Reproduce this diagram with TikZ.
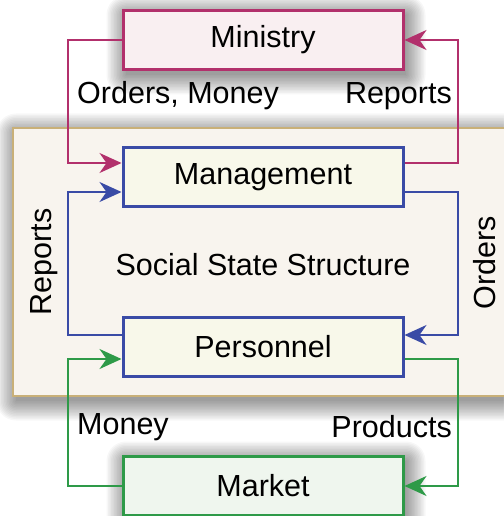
\documentclass[tikz,border=0pt]{standalone}
\usepackage{fontspec}
\setmainfont{Liberation Sans}
\usetikzlibrary{arrows.meta}
\definecolor{magc}{HTML}{B2306C}
\definecolor{bluec}{HTML}{3A4BA6}
\definecolor{greenc}{HTML}{2E9A48}
\definecolor{tanc}{HTML}{C9B078}
\definecolor{bigfill}{HTML}{F8F4EE}
\definecolor{minfill}{HTML}{F9EFF1}
\definecolor{orgfill}{HTML}{F8F8EA}
\definecolor{mktfill}{HTML}{EFF6EE}
\newcommand{\myshadow}[4]{%
  \foreach \r in {0,1.5,...,19.5}{%
    \fill[black, opacity=0.03, rounded corners=\r pt] (#1-\r+3,#2-\r+5) rectangle (#3+\r+3,#4+\r+5);}}
\tikzset{
  txt/.style={font=\fontsize{30.5}{36}\selectfont, inner sep=0pt},
  boxnode/.style={txt, draw, line width=3pt, minimum width=280pt, minimum height=59pt},
  conn/.style={line width=2pt, -{Stealth[length=22pt,width=20pt,inset=7pt]}}
}
\begin{document}
\begin{tikzpicture}[x=1pt,y=-1pt]
\useasboundingbox (0,0) rectangle (503,516);
\fill[white] (0,0) rectangle (503,516);
\myshadow{13}{128}{525}{396}
\draw[draw=tanc, fill=bigfill, line width=1.5pt] (13,128) rectangle (525,396);
\node[txt] (sss) at (263,265) {Social State Structure};
\myshadow{123}{10}{403}{70}
\myshadow{123}{456}{403}{516}
\node[boxnode, draw=magc, fill=minfill] (ministry) at (263,40) {Ministry};
\node[boxnode, draw=bluec, fill=orgfill] (management) at (263,177) {Management};
\node[boxnode, draw=bluec, fill=orgfill] (personnel) at (263,347) {Personnel};
\node[boxnode, draw=greenc, fill=mktfill] (market) at (263,486) {Market};
% magenta
\draw[conn, magc] (ministry.west) -| (68,163) -- ([yshift=14pt]management.west);
\draw[conn, magc] ([yshift=14pt]management.east) -| (458,40) -- (ministry.east);
% blue
\draw[conn, bluec] ([yshift=12pt]personnel.west) -| (68,192) -- ([yshift=-15pt]management.west);
\draw[conn, bluec] ([yshift=-15pt]management.east) -| (458,335) -- ([yshift=12pt]personnel.east);
% green
\draw[conn, greenc] (market.west) -| (68,359) -- ([yshift=-12pt]personnel.west);
\draw[conn, greenc] ([yshift=-12pt]personnel.east) -| (458,486) -- (market.east);
% labels
\node[txt, anchor=west] (lorders) at (77,96) {Orders, Money};
\node[txt, anchor=east] (lreports) at (452,96) {Reports};
\node[txt, rotate=90] (lrep2) at (44,262) {Reports};
\node[txt, rotate=90] (lord2) at (485,263) {Orders};
\node[txt, anchor=west] (lmoney) at (77,427) {Money};
\node[txt, anchor=east] (lprod) at (452,427) {Products};
\end{tikzpicture}
\end{document}
